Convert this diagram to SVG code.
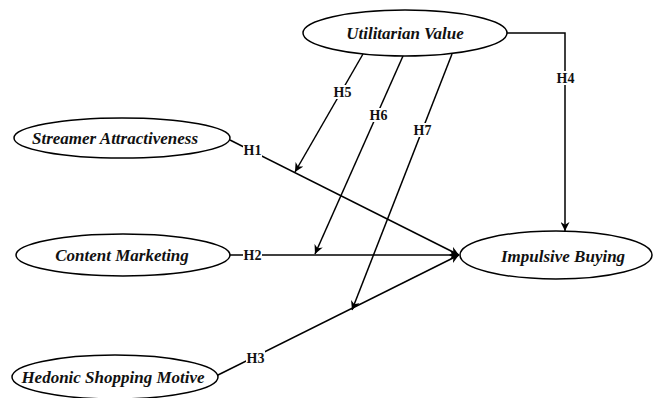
<svg xmlns="http://www.w3.org/2000/svg" width="656" height="398" viewBox="0 0 656 398">
<defs>
<marker id="arr" viewBox="0 0 10 10" refX="10" refY="5" markerWidth="9" markerHeight="9" markerUnits="userSpaceOnUse" orient="auto">
<path d="M0,0 L10,5 L0,10 L3,5 Z" fill="#000"/>
</marker>
<style>
.node ellipse{fill:#fff;stroke:#000;stroke-width:1.5}
.node text{font-family:"Liberation Serif","Times New Roman",serif;font-weight:bold;font-style:italic;font-size:17px;text-anchor:middle;fill:#111}
.edge{fill:none;stroke:#000;stroke-width:1.5}
.lbl rect{fill:#fff}
.lbl text{font-family:"Liberation Serif","Times New Roman",serif;font-weight:bold;font-size:14px;text-anchor:middle;fill:#111}
</style>
</defs>
<rect width="656" height="398" fill="#fff"/>
<g id="connectors">
<line class="edge" x1="230" y1="140" x2="459" y2="255" marker-end="url(#arr)"/>
<line class="edge" x1="229" y1="255" x2="459" y2="255" marker-end="url(#arr)"/>
<line class="edge" x1="216" y1="376" x2="459" y2="255" marker-end="url(#arr)"/>
<path class="edge" d="M507,33 H565 V231" marker-end="url(#arr)"/>
<line class="edge" x1="363" y1="54" x2="295" y2="172" marker-end="url(#arr)"/>
<line class="edge" x1="403" y1="56" x2="315" y2="254" marker-end="url(#arr)"/>
<line class="edge" x1="452" y1="54" x2="352" y2="310" marker-end="url(#arr)"/>
<g class="lbl">
<rect x="243" y="143" width="19" height="14"/><text x="252.5" y="155">H1</text>
<rect x="243" y="248" width="19" height="14"/><text x="252.5" y="260">H2</text>
<rect x="246" y="351" width="19" height="14"/><text x="255.5" y="363">H3</text>
<rect x="556" y="71" width="19" height="14"/><text x="565.5" y="83">H4</text>
<rect x="333" y="85" width="19" height="14"/><text x="342.5" y="97">H5</text>
<rect x="369" y="108" width="19" height="14"/><text x="378.5" y="120">H6</text>
<rect x="413" y="123" width="19" height="14"/><text x="422.5" y="135">H7</text>
</g>
</g>
<g id="utilitarian" class="node"><ellipse cx="405" cy="33" rx="102" ry="23"/><text x="405" y="39">Utilitarian Value</text></g>
<g id="streamer" class="node"><ellipse cx="122" cy="138" rx="108" ry="20"/><text x="115" y="144">Streamer Attractiveness</text></g>
<g id="content" class="node"><ellipse cx="123" cy="255" rx="107" ry="21"/><text x="122" y="261">Content Marketing</text></g>
<g id="hedonic" class="node"><ellipse cx="115" cy="377" rx="103" ry="22"/><text x="113" y="383">Hedonic Shopping Motive</text></g>
<g id="impulsive" class="node"><ellipse cx="556" cy="255" rx="96" ry="24"/><text x="563" y="262">Impulsive Buying</text></g>
</svg>
